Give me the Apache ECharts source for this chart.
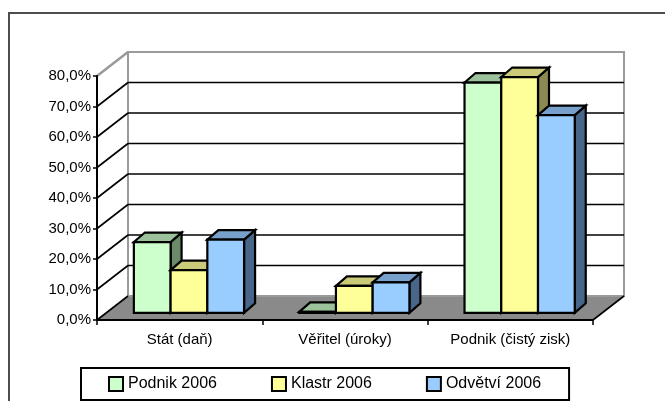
<!DOCTYPE html>
<html>
<head>
<meta charset="utf-8">
<style>
  html, body { margin: 0; padding: 0; background: #fff; }
  #chart { width: 665px; height: 401px; }
</style>
<script src="https://cdn.jsdelivr.net/npm/echarts@6/dist/echarts.min.js"></script>
</head>
<body>
<div id="chart"></div>
<script>
// Struktura rozdělení přidané hodnoty (podíly v %)
const categories = ['Stát (daň)', 'Věřitel (úroky)', 'Podnik (čistý zisk)'];
const seriesNames = ['Podnik 2006', 'Klastr 2006', 'Odvětví 2006'];
const podnik2006 = [23.2, 0.3, 75.5];
const klastr2006 = [14.0, 8.8, 77.3];
const odvetvi2006 = [24.0, 10.0, 64.8];
const yTicks = [0, 10, 20, 30, 40, 50, 60, 70, 80];

// face colours: front, top, side
const palette = [
  { front: '#CCFFCC', top: '#9CC29C', side: '#6A8A6A' },
  { front: '#FFFF99', top: '#CACA78', side: '#8C8A50' },
  { front: '#99CCFF', top: '#78A0CC', side: '#48668A' }
];

// depth of the floor / walls (pixels) and of the boxes
const WALL_DX = 31, WALL_DY = -24;
const BAR_OFF = 0.3;            // boxes start this far into the floor depth
const BAR_DX = 11, BAR_DY = -9.5;
const FONT = '"Liberation Sans", Arial, sans-serif';

const chart = echarts.init(document.getElementById('chart'), null, { renderer: 'canvas' });

function renderWalls(params, api) {
  const cs = params.coordSys;
  const x0 = cs.x, x1 = cs.x + cs.width;
  const children = [];
  const y0 = api.coord([0, 0])[1];
  const yTop = api.coord([0, yTicks[yTicks.length - 1]])[1];
  // floor
  children.push({
    type: 'polygon',
    shape: { points: [[x0, y0], [x1, y0], [x1 + WALL_DX, y0 + WALL_DY], [x0 + WALL_DX, y0 + WALL_DY]] },
    style: { fill: '#8A8A8A', stroke: null }
  });
  // back wall
  children.push({
    type: 'rect',
    shape: { x: x0 + WALL_DX, y: yTop + WALL_DY, width: cs.width, height: y0 - yTop },
    style: { fill: '#fff', stroke: '#9A9A9A', lineWidth: 2 }
  });
  // grid lines on back and side walls
  yTicks.forEach(function (t, k) {
    const y = api.coord([0, t])[1];
    const last = k === yTicks.length - 1;
    const col = last ? '#9A9A9A' : '#000';
    if (t > 0 && !last) {
      children.push({
        type: 'line',
        shape: { x1: x0 + WALL_DX, y1: y + WALL_DY, x2: x1 + WALL_DX, y2: y + WALL_DY },
        style: { stroke: '#000', lineWidth: 1.6 }
      });
    }
    children.push({
      type: 'line',
      shape: { x1: x0, y1: y, x2: x0 + WALL_DX, y2: y + WALL_DY },
      style: { stroke: col, lineWidth: last ? 2.5 : 1.6 }
    });
  });
  // right edge of the floor
  children.push({
    type: 'line',
    shape: { x1: x1, y1: y0, x2: x1 + WALL_DX, y2: y0 + WALL_DY },
    style: { stroke: '#000', lineWidth: 1.6 }
  });
  return { type: 'group', children: children };
}

function makeBarRenderer(idx) {
  const pal = palette[idx];
  return function (params, api) {
    const c = api.value(0), v = api.value(1);
    const band = api.size([1, 0])[0];
    const w = band / 4.5;
    const base = api.coord([c, 0]);
    const top = api.coord([c, v]);
    const fx = BAR_OFF * WALL_DX, fy = BAR_OFF * WALL_DY;
    const xa = base[0] - 1.5 * w + idx * w + fx;
    const xb = xa + w;
    const yb = base[1] + fy;
    const yt = top[1] + fy;
    const line = { stroke: '#000', lineWidth: 2.2, lineJoin: 'miter' };
    return {
      type: 'group',
      children: [
        {
          type: 'polygon',
          shape: { points: [[xb, yt], [xb, yb], [xb + BAR_DX, yb + BAR_DY], [xb + BAR_DX, yt + BAR_DY]] },
          style: Object.assign({ fill: pal.side }, line)
        },
        {
          type: 'polygon',
          shape: { points: [[xa, yt], [xb, yt], [xb + BAR_DX, yt + BAR_DY], [xa + BAR_DX, yt + BAR_DY]] },
          style: Object.assign({ fill: pal.top }, line)
        },
        {
          type: 'rect',
          shape: { x: xa, y: yt, width: w, height: yb - yt },
          style: Object.assign({ fill: pal.front }, line)
        }
      ]
    };
  };
}

const values = [podnik2006, klastr2006, odvetvi2006];

const barSeries = values.map(function (arr, i) {
  return {
    type: 'custom',
    name: seriesNames[i],
    coordinateSystem: 'cartesian2d',
    renderItem: makeBarRenderer(i),
    itemStyle: { color: palette[i].front },
    encode: { x: 0, y: 1 },
    data: arr.map(function (v, c) { return [c, v]; }),
    z: 3,
    silent: true
  };
});

const option = {
  backgroundColor: '#fff',
  animation: false,
  graphic: [{
    type: 'rect',
    shape: { x: 9, y: 13, width: 720, height: 460 },
    style: { fill: null, stroke: '#4D4D4D', lineWidth: 2 },
    z: 0
  }],
  grid: { left: 97, right: 72, top: 76, bottom: 81 },
  legend: {
    left: 81,
    top: 368,
    orient: 'horizontal',
    itemWidth: 14,
    itemHeight: 14,
    itemGap: 54,
    padding: [8, 28, 8, 27],
    borderColor: '#000',
    borderWidth: 2,
    textStyle: { fontFamily: FONT, fontSize: 16, color: '#000' },
    data: seriesNames.map(function (n, i) {
      return { name: n, icon: 'rect', itemStyle: { color: palette[i].front, borderColor: '#000', borderWidth: 2 } };
    })
  },
  xAxis: {
    type: 'category',
    data: categories,
    z: 5,
    axisLine: { lineStyle: { color: '#000', width: 2 } },
    axisTick: { show: true, length: 5, interval: 0, lineStyle: { color: '#000', width: 1.5 } },
    axisLabel: { margin: 12, fontFamily: FONT, fontSize: 15, color: '#000', interval: 0 },
    splitLine: { show: false }
  },
  yAxis: {
    type: 'value',
    min: 0,
    max: 80,
    interval: 10,
    z: 5,
    axisLine: { show: true, lineStyle: { color: '#000', width: 2 } },
    axisTick: { show: true, length: 4, lineStyle: { color: '#000', width: 1.5 } },
    axisLabel: {
      margin: 6, fontFamily: FONT, fontSize: 15, color: '#000',
      formatter: function (v) { return v.toFixed(1).replace('.', ',') + '%'; }
    },
    splitLine: { show: false }
  },
  series: [{
    type: 'custom',
    coordinateSystem: 'cartesian2d',
    renderItem: renderWalls,
    data: [[0, 0]],
    z: 1,
    silent: true
  }].concat(barSeries)
};

chart.setOption(option);
</script>
</body>
</html>
